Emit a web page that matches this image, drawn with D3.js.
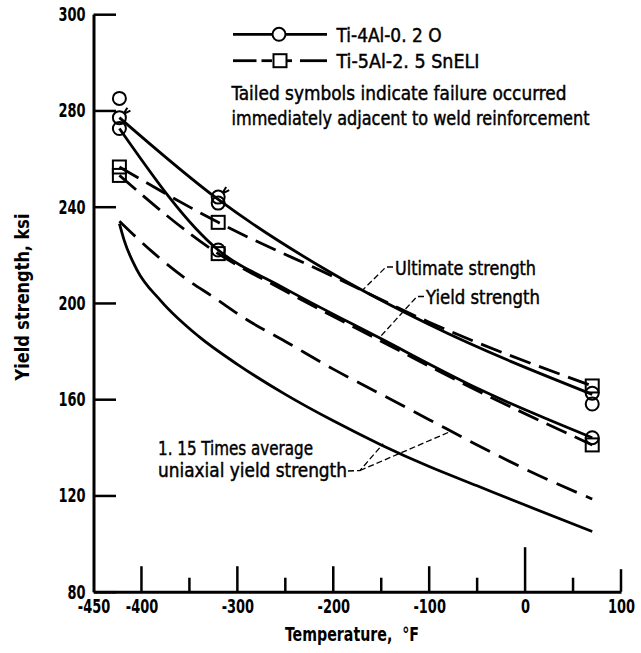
<!DOCTYPE html>
<html>
<head>
<meta charset="utf-8">
<script src="https://cdn.jsdelivr.net/npm/d3@7"></script>
<style>
  body { margin: 0; background: #fff; }
  svg text { font-family: "Liberation Sans Narrow", "DejaVu Sans Condensed", sans-serif; fill: #000; }
</style>
</head>
<body>
<svg id="chart" width="641" height="653"></svg>
<script>
// axis ticks
const xTicks = [-400, -350, -300, -250, -200, -150, -100, -50, 0, 50, 100];
const xLabelValues = [-450, -400, -300, -200, -100, 0, 100];
const xLabels = ["-450", "-400", "-300", "-200", "-100", "0", "100"];
const yTicks = [80, 120, 160, 200, 240, 280, 320];
const yLabels = ["80", "120", "160", "200", "240", "280", "300"];

// measured points [temperature F, strength ksi]
const circlePoints = [[-423, 285], [-423, 277], [-423, 272.5], [-320, 244], [-320, 241.5], [-320, 222], [70, 162.5], [70, 158], [70, 144]];
const tailedPoints = [[-423, 277], [-320, 244]];
const squarePoints = [[-423, 256.5], [-423, 253], [-320, 233.5], [-320, 220.5], [70, 165.5], [70, 141]];

// faired curves
const ultimate4Al = [[-423, 277], [-320, 243], [-200, 212], [-100, 191], [70, 162]];
const ultimate5Al = [[-423, 256.5], [-320, 233.5], [-200, 211], [-100, 192], [70, 165.5]];
const yield4Al = [[-423, 272.5], [-320, 222], [-255, 207], [-152, 185.5], [-47, 164], [70, 144]];
const yield5Al = [[-423, 253], [-320, 220.5], [-255, 206], [-152, 184.5], [-47, 163], [70, 141]];
const uniaxial4Al = [[-423, 233], [-418, 226], [-405, 214], [-380, 201], [-340, 186], [-300, 174.5], [-250, 162], [-200, 151], [-150, 141], [-100, 132], [-50, 124], [0, 116], [70, 105]];
const uniaxial5Al = [[-423, 234], [-388, 221], [-350, 209], [-327, 203], [-290, 193], [-250, 184], [-200, 172.5], [-150, 162], [-100, 151.5], [-50, 141], [0, 131], [70, 118.5]];

const svg = d3.select("#chart");

const x = d3.scaleLinear().domain([-450, 100]).range([93.5, 621]);
const y = d3.scaleLinear().domain([80, 320]).range([591.7, 14.2]);

// squeeze text horizontally, the lettering in the original is narrow
function squeeze(sel, k) {
  sel.each(function () {
    const w = this.getComputedTextLength();
    d3.select(this).attr("textLength", w * k).attr("lengthAdjust", "spacingAndGlyphs");
  });
}

// y axis, ticks pointing inward
const yAxis = svg.append("g")
  .attr("transform", `translate(${x(-450)},0)`)
  .call(d3.axisLeft(y).tickValues(yTicks).tickSizeInner(-22.5).tickSizeOuter(0)
    .tickPadding(8).tickFormat((d, i) => yLabels[i]));
yAxis.select(".domain").attr("stroke-width", 3);
yAxis.selectAll(".tick line").attr("stroke-width", 2.5);
yAxis.selectAll("text").attr("font-size", 20).attr("font-weight", "bold").call(squeeze, 0.72);

// x axis: labels from the axis, inward ticks of several lengths drawn separately
const xAxis = svg.append("g")
  .attr("transform", `translate(0,${y(80)})`)
  .call(d3.axisBottom(x).tickValues(xLabelValues).tickSize(0).tickPadding(7)
    .tickFormat((d, i) => xLabels[i]));
xAxis.select(".domain").attr("stroke-width", 3);
xAxis.selectAll("text").attr("font-size", 20).attr("font-weight", "bold").call(squeeze, 0.72);

const tickLen = (d) => (d === 0 ? 44.5 : d === 100 ? 22.5 : d % 100 === 0 ? 25.5 : 14);
xAxis.selectAll("line.inward")
  .data(xTicks)
  .join("line")
  .attr("class", "inward")
  .attr("x1", (d) => x(d))
  .attr("x2", (d) => x(d))
  .attr("y1", 0)
  .attr("y2", (d) => -tickLen(d))
  .attr("stroke", "#000")
  .attr("stroke-width", 2.5);

// axis titles
svg.append("text")
  .attr("transform", `translate(29,297) rotate(-90)`)
  .attr("text-anchor", "middle")
  .attr("font-size", 20)
  .attr("font-weight", "bold")
  .attr("textLength", 167)
  .attr("lengthAdjust", "spacingAndGlyphs")
  .text("Yield strength, ksi");

svg.append("text")
  .attr("x", 352)
  .attr("y", 641)
  .attr("text-anchor", "middle")
  .attr("font-size", 20)
  .attr("font-weight", "bold")
  .attr("textLength", 134)
  .attr("lengthAdjust", "spacingAndGlyphs")
  .style("white-space", "pre")
  .text("Temperature,  \u00B0F");

// curves
const line = d3.line()
  .x((d) => x(d[0]))
  .y((d) => y(d[1]))
  .curve(d3.curveMonotoneX);

const curves = [
  { data: ultimate4Al, dash: null },
  { data: ultimate5Al, dash: "22,9" },
  { data: yield4Al, dash: null },
  { data: yield5Al, dash: "22,9" },
  { data: uniaxial4Al, dash: null },
  { data: uniaxial5Al, dash: "22,10" },
];

svg.append("g")
  .selectAll("path")
  .data(curves)
  .join("path")
  .attr("d", (d) => line(d.data))
  .attr("fill", "none")
  .attr("stroke", "#000")
  .attr("stroke-width", 2.8)
  .attr("stroke-dasharray", (d) => d.dash);

// symbols
const marks = svg.append("g").attr("fill", "none").attr("stroke", "#000").attr("stroke-width", 2);

marks.selectAll("circle")
  .data(circlePoints)
  .join("circle")
  .attr("cx", (d) => x(d[0]))
  .attr("cy", (d) => y(d[1]))
  .attr("r", 6.5);

marks.selectAll("rect")
  .data(squarePoints)
  .join("rect")
  .attr("x", (d) => x(d[0]) - 6.5)
  .attr("y", (d) => y(d[1]) - 6.5)
  .attr("width", 13)
  .attr("height", 13);

// tails on the tailed symbols
marks.selectAll("path.tail")
  .data(tailedPoints)
  .join("path")
  .attr("class", "tail")
  .attr("d", (d) => {
    const cx = x(d[0]), cy = y(d[1]);
    return `M${cx + 4.6},${cy - 4.6} L${cx + 8},${cy - 10} M${cx + 5},${cy - 4} L${cx + 11},${cy - 7}`;
  });

// legend
const legend = svg.append("g").attr("stroke", "#000").attr("stroke-width", 2.8);
legend.append("line").attr("x1", 233).attr("x2", 327).attr("y1", 34.3).attr("y2", 34.3);
legend.append("circle").attr("cx", 279).attr("cy", 34.3).attr("r", 6.5).attr("fill", "#fff").attr("stroke-width", 2);
[[233, 256.5], [261.5, 272], [287, 292], [300, 327]].forEach(([a, b]) => {
  legend.append("line").attr("x1", a).attr("x2", b).attr("y1", 60.7).attr("y2", 60.7);
});
legend.append("rect").attr("x", 273.5).attr("y", 54.2).attr("width", 13).attr("height", 13)
  .attr("fill", "#fff").attr("stroke-width", 2);

const label = (tx, ty, str, w) =>
  svg.append("text")
    .attr("x", tx)
    .attr("y", ty)
    .attr("font-size", 20)
    .attr("stroke", "#000")
    .attr("stroke-width", 0.45)
    .attr("textLength", w)
    .attr("lengthAdjust", "spacingAndGlyphs")
    .style("white-space", "pre")
    .text(str);

label(336.5, 41.7, "Ti-4Al-0. 2 O", 105);
label(336.5, 68.3, "Ti-5Al-2. 5 SnELI", 143);
label(231.5, 100, "Tailed symbols indicate failure occurred", 335);
label(231.5, 125, "immediately adjacent to weld reinforcement", 358);
label(395, 275, "Ultimate strength", 141);
label(426, 304, "Yield strength", 114);
label(158, 455, "1. 15 Times average", 155);
label(158, 476.7, "uniaxial yield strength", 189);

// leader lines
const leaders = svg.append("g")
  .attr("fill", "none")
  .attr("stroke", "#000")
  .attr("stroke-width", 1.3)
  .attr("stroke-dasharray", "6,3");

leaders.append("path").attr("d", `M393,267 L386,267 L${x(-169)},${y(205.5)}`);
leaders.append("path").attr("d", `M424,296.5 L417,296.5 L${x(-152)},${y(185.5)}`);
leaders.append("path").attr("d", `M348,471 L360,470.5 L${x(-148)},${y(141.5)}`);
leaders.append("path").attr("d", `M360,470.5 L${x(-77)},${y(146.7)}`);
</script>
</body>
</html>
